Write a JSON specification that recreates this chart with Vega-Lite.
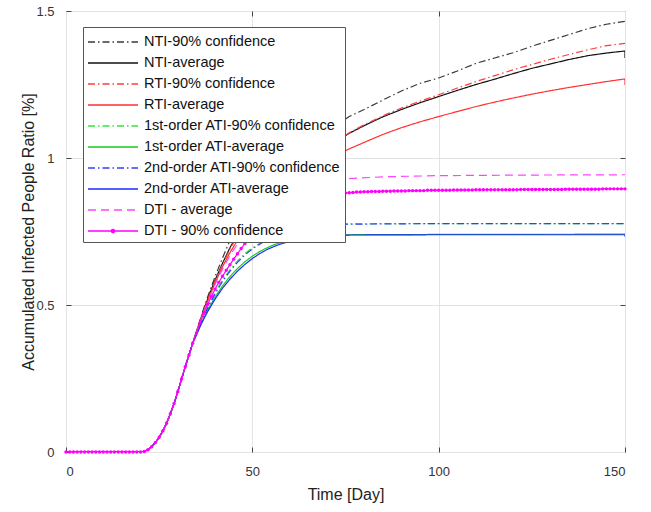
{
  "$schema": "https://vega.github.io/schema/vega-lite/v6.json",
  "width": 559,
  "height": 441,
  "autosize": {"type": "none"},
  "padding": {"left": 66, "top": 11, "right": 26, "bottom": 60},
  "background": "white",
  "config": {
    "view": {"stroke": "#555555", "strokeWidth": 1},
    "font": "Liberation Sans"
  },
  "data": {"values": [
    {"t":0,"v":0,"s":"NTI-90% confidence"},{"t":20,"v":0,"s":"NTI-90% confidence"},{"t":21,"v":0.002,"s":"NTI-90% confidence"},{"t":22,"v":0.008,"s":"NTI-90% confidence"},{"t":23,"v":0.018,"s":"NTI-90% confidence"},{"t":24,"v":0.032,"s":"NTI-90% confidence"},{"t":25,"v":0.05,"s":"NTI-90% confidence"},{"t":26,"v":0.072,"s":"NTI-90% confidence"},{"t":27,"v":0.098,"s":"NTI-90% confidence"},{"t":28,"v":0.13,"s":"NTI-90% confidence"},{"t":29,"v":0.165,"s":"NTI-90% confidence"},{"t":30,"v":0.205,"s":"NTI-90% confidence"},{"t":31,"v":0.248,"s":"NTI-90% confidence"},{"t":32,"v":0.29,"s":"NTI-90% confidence"},{"t":33,"v":0.33,"s":"NTI-90% confidence"},{"t":34,"v":0.37,"s":"NTI-90% confidence"},
    {"t":35,"v":0.41,"s":"NTI-90% confidence"},{"t":36,"v":0.45,"s":"NTI-90% confidence"},{"t":37,"v":0.49,"s":"NTI-90% confidence"},{"t":38,"v":0.527,"s":"NTI-90% confidence"},{"t":40,"v":0.597,"s":"NTI-90% confidence"},{"t":42,"v":0.66,"s":"NTI-90% confidence"},{"t":44,"v":0.72,"s":"NTI-90% confidence"},{"t":46,"v":0.77,"s":"NTI-90% confidence"},{"t":48,"v":0.812,"s":"NTI-90% confidence"},{"t":50,"v":0.848,"s":"NTI-90% confidence"},{"t":55,"v":0.922,"s":"NTI-90% confidence"},{"t":60,"v":0.985,"s":"NTI-90% confidence"},{"t":65,"v":1.04,"s":"NTI-90% confidence"},{"t":70,"v":1.09,"s":"NTI-90% confidence"},{"t":76,"v":1.141,"s":"NTI-90% confidence"},{"t":80,"v":1.165,"s":"NTI-90% confidence"},{"t":85,"v":1.197,"s":"NTI-90% confidence"},{"t":90,"v":1.228,"s":"NTI-90% confidence"},{"t":95,"v":1.254,"s":"NTI-90% confidence"},{"t":100,"v":1.272,"s":"NTI-90% confidence"},{"t":105,"v":1.296,"s":"NTI-90% confidence"},{"t":110,"v":1.322,"s":"NTI-90% confidence"},{"t":115,"v":1.34,"s":"NTI-90% confidence"},{"t":120,"v":1.358,"s":"NTI-90% confidence"},{"t":125,"v":1.38,"s":"NTI-90% confidence"},{"t":130,"v":1.4,"s":"NTI-90% confidence"},{"t":135,"v":1.42,"s":"NTI-90% confidence"},{"t":140,"v":1.44,"s":"NTI-90% confidence"},{"t":145,"v":1.455,"s":"NTI-90% confidence"},{"t":150,"v":1.465,"s":"NTI-90% confidence"},

    {"t":0,"v":0,"s":"NTI-average"},{"t":20,"v":0,"s":"NTI-average"},{"t":21,"v":0.002,"s":"NTI-average"},{"t":22,"v":0.008,"s":"NTI-average"},{"t":23,"v":0.018,"s":"NTI-average"},{"t":24,"v":0.032,"s":"NTI-average"},{"t":25,"v":0.05,"s":"NTI-average"},{"t":26,"v":0.072,"s":"NTI-average"},{"t":27,"v":0.098,"s":"NTI-average"},{"t":28,"v":0.13,"s":"NTI-average"},{"t":29,"v":0.165,"s":"NTI-average"},{"t":30,"v":0.205,"s":"NTI-average"},{"t":31,"v":0.248,"s":"NTI-average"},{"t":32,"v":0.29,"s":"NTI-average"},{"t":33,"v":0.33,"s":"NTI-average"},{"t":34,"v":0.37,"s":"NTI-average"},
    {"t":35,"v":0.408,"s":"NTI-average"},{"t":36,"v":0.447,"s":"NTI-average"},{"t":37,"v":0.485,"s":"NTI-average"},{"t":38,"v":0.52,"s":"NTI-average"},{"t":40,"v":0.585,"s":"NTI-average"},{"t":42,"v":0.642,"s":"NTI-average"},{"t":44,"v":0.695,"s":"NTI-average"},{"t":46,"v":0.74,"s":"NTI-average"},{"t":48,"v":0.78,"s":"NTI-average"},{"t":50,"v":0.813,"s":"NTI-average"},{"t":55,"v":0.883,"s":"NTI-average"},{"t":60,"v":0.94,"s":"NTI-average"},{"t":65,"v":0.99,"s":"NTI-average"},{"t":70,"v":1.035,"s":"NTI-average"},{"t":76,"v":1.084,"s":"NTI-average"},{"t":80,"v":1.11,"s":"NTI-average"},{"t":85,"v":1.14,"s":"NTI-average"},{"t":90,"v":1.165,"s":"NTI-average"},{"t":95,"v":1.188,"s":"NTI-average"},{"t":100,"v":1.209,"s":"NTI-average"},{"t":105,"v":1.23,"s":"NTI-average"},{"t":110,"v":1.25,"s":"NTI-average"},{"t":115,"v":1.268,"s":"NTI-average"},{"t":120,"v":1.287,"s":"NTI-average"},{"t":125,"v":1.305,"s":"NTI-average"},{"t":130,"v":1.32,"s":"NTI-average"},{"t":135,"v":1.335,"s":"NTI-average"},{"t":140,"v":1.348,"s":"NTI-average"},{"t":145,"v":1.357,"s":"NTI-average"},{"t":150,"v":1.364,"s":"NTI-average"},{"t":150,"v":1.34,"s":"NTI-average"},

    {"t":0,"v":0,"s":"RTI-90% confidence"},{"t":20,"v":0,"s":"RTI-90% confidence"},{"t":21,"v":0.002,"s":"RTI-90% confidence"},{"t":22,"v":0.008,"s":"RTI-90% confidence"},{"t":23,"v":0.018,"s":"RTI-90% confidence"},{"t":24,"v":0.032,"s":"RTI-90% confidence"},{"t":25,"v":0.05,"s":"RTI-90% confidence"},{"t":26,"v":0.072,"s":"RTI-90% confidence"},{"t":27,"v":0.098,"s":"RTI-90% confidence"},{"t":28,"v":0.13,"s":"RTI-90% confidence"},{"t":29,"v":0.165,"s":"RTI-90% confidence"},{"t":30,"v":0.205,"s":"RTI-90% confidence"},{"t":31,"v":0.248,"s":"RTI-90% confidence"},{"t":32,"v":0.29,"s":"RTI-90% confidence"},{"t":33,"v":0.33,"s":"RTI-90% confidence"},{"t":34,"v":0.37,"s":"RTI-90% confidence"},
    {"t":35,"v":0.408,"s":"RTI-90% confidence"},{"t":36,"v":0.446,"s":"RTI-90% confidence"},{"t":37,"v":0.483,"s":"RTI-90% confidence"},{"t":38,"v":0.518,"s":"RTI-90% confidence"},{"t":40,"v":0.582,"s":"RTI-90% confidence"},{"t":42,"v":0.638,"s":"RTI-90% confidence"},{"t":44,"v":0.69,"s":"RTI-90% confidence"},{"t":46,"v":0.735,"s":"RTI-90% confidence"},{"t":48,"v":0.775,"s":"RTI-90% confidence"},{"t":50,"v":0.808,"s":"RTI-90% confidence"},{"t":55,"v":0.878,"s":"RTI-90% confidence"},{"t":60,"v":0.937,"s":"RTI-90% confidence"},{"t":65,"v":0.988,"s":"RTI-90% confidence"},{"t":70,"v":1.035,"s":"RTI-90% confidence"},{"t":76,"v":1.086,"s":"RTI-90% confidence"},{"t":80,"v":1.113,"s":"RTI-90% confidence"},{"t":85,"v":1.143,"s":"RTI-90% confidence"},{"t":90,"v":1.17,"s":"RTI-90% confidence"},{"t":95,"v":1.193,"s":"RTI-90% confidence"},{"t":100,"v":1.215,"s":"RTI-90% confidence"},{"t":105,"v":1.238,"s":"RTI-90% confidence"},{"t":110,"v":1.26,"s":"RTI-90% confidence"},{"t":115,"v":1.28,"s":"RTI-90% confidence"},{"t":120,"v":1.3,"s":"RTI-90% confidence"},{"t":125,"v":1.318,"s":"RTI-90% confidence"},{"t":130,"v":1.336,"s":"RTI-90% confidence"},{"t":135,"v":1.352,"s":"RTI-90% confidence"},{"t":140,"v":1.368,"s":"RTI-90% confidence"},{"t":145,"v":1.382,"s":"RTI-90% confidence"},{"t":150,"v":1.39,"s":"RTI-90% confidence"},

    {"t":0,"v":0,"s":"RTI-average"},{"t":20,"v":0,"s":"RTI-average"},{"t":21,"v":0.002,"s":"RTI-average"},{"t":22,"v":0.008,"s":"RTI-average"},{"t":23,"v":0.018,"s":"RTI-average"},{"t":24,"v":0.032,"s":"RTI-average"},{"t":25,"v":0.05,"s":"RTI-average"},{"t":26,"v":0.072,"s":"RTI-average"},{"t":27,"v":0.098,"s":"RTI-average"},{"t":28,"v":0.13,"s":"RTI-average"},{"t":29,"v":0.165,"s":"RTI-average"},{"t":30,"v":0.205,"s":"RTI-average"},{"t":31,"v":0.248,"s":"RTI-average"},{"t":32,"v":0.29,"s":"RTI-average"},{"t":33,"v":0.33,"s":"RTI-average"},{"t":34,"v":0.37,"s":"RTI-average"},
    {"t":35,"v":0.407,"s":"RTI-average"},{"t":36,"v":0.444,"s":"RTI-average"},{"t":37,"v":0.48,"s":"RTI-average"},{"t":38,"v":0.513,"s":"RTI-average"},{"t":40,"v":0.575,"s":"RTI-average"},{"t":42,"v":0.63,"s":"RTI-average"},{"t":44,"v":0.678,"s":"RTI-average"},{"t":46,"v":0.72,"s":"RTI-average"},{"t":48,"v":0.757,"s":"RTI-average"},{"t":50,"v":0.788,"s":"RTI-average"},{"t":55,"v":0.852,"s":"RTI-average"},{"t":60,"v":0.905,"s":"RTI-average"},{"t":65,"v":0.952,"s":"RTI-average"},{"t":70,"v":0.993,"s":"RTI-average"},{"t":76,"v":1.031,"s":"RTI-average"},{"t":80,"v":1.053,"s":"RTI-average"},{"t":85,"v":1.08,"s":"RTI-average"},{"t":90,"v":1.103,"s":"RTI-average"},{"t":95,"v":1.123,"s":"RTI-average"},{"t":100,"v":1.141,"s":"RTI-average"},{"t":105,"v":1.158,"s":"RTI-average"},{"t":110,"v":1.175,"s":"RTI-average"},{"t":115,"v":1.19,"s":"RTI-average"},{"t":120,"v":1.204,"s":"RTI-average"},{"t":125,"v":1.217,"s":"RTI-average"},{"t":130,"v":1.229,"s":"RTI-average"},{"t":135,"v":1.24,"s":"RTI-average"},{"t":140,"v":1.25,"s":"RTI-average"},{"t":145,"v":1.26,"s":"RTI-average"},{"t":150,"v":1.269,"s":"RTI-average"},{"t":150,"v":1.248,"s":"RTI-average"},

    {"t":0,"v":0,"s":"1st-order ATI-90% confidence"},{"t":20,"v":0,"s":"1st-order ATI-90% confidence"},{"t":21,"v":0.002,"s":"1st-order ATI-90% confidence"},{"t":22,"v":0.008,"s":"1st-order ATI-90% confidence"},{"t":23,"v":0.018,"s":"1st-order ATI-90% confidence"},{"t":24,"v":0.032,"s":"1st-order ATI-90% confidence"},{"t":25,"v":0.05,"s":"1st-order ATI-90% confidence"},{"t":26,"v":0.072,"s":"1st-order ATI-90% confidence"},{"t":27,"v":0.098,"s":"1st-order ATI-90% confidence"},{"t":28,"v":0.13,"s":"1st-order ATI-90% confidence"},{"t":29,"v":0.165,"s":"1st-order ATI-90% confidence"},{"t":30,"v":0.205,"s":"1st-order ATI-90% confidence"},{"t":31,"v":0.248,"s":"1st-order ATI-90% confidence"},{"t":32,"v":0.29,"s":"1st-order ATI-90% confidence"},{"t":33,"v":0.33,"s":"1st-order ATI-90% confidence"},{"t":34,"v":0.37,"s":"1st-order ATI-90% confidence"},
    {"t":35,"v":0.403,"s":"1st-order ATI-90% confidence"},{"t":36,"v":0.435,"s":"1st-order ATI-90% confidence"},{"t":37,"v":0.465,"s":"1st-order ATI-90% confidence"},{"t":38,"v":0.493,"s":"1st-order ATI-90% confidence"},{"t":40,"v":0.543,"s":"1st-order ATI-90% confidence"},{"t":42,"v":0.585,"s":"1st-order ATI-90% confidence"},{"t":44,"v":0.62,"s":"1st-order ATI-90% confidence"},{"t":46,"v":0.65,"s":"1st-order ATI-90% confidence"},{"t":48,"v":0.675,"s":"1st-order ATI-90% confidence"},{"t":50,"v":0.695,"s":"1st-order ATI-90% confidence"},{"t":52,"v":0.71,"s":"1st-order ATI-90% confidence"},{"t":54,"v":0.724,"s":"1st-order ATI-90% confidence"},{"t":56,"v":0.736,"s":"1st-order ATI-90% confidence"},{"t":58,"v":0.746,"s":"1st-order ATI-90% confidence"},{"t":60,"v":0.754,"s":"1st-order ATI-90% confidence"},{"t":63,"v":0.763,"s":"1st-order ATI-90% confidence"},{"t":66,"v":0.769,"s":"1st-order ATI-90% confidence"},{"t":70,"v":0.773,"s":"1st-order ATI-90% confidence"},{"t":76,"v":0.776,"s":"1st-order ATI-90% confidence"},{"t":100,"v":0.777,"s":"1st-order ATI-90% confidence"},{"t":150,"v":0.777,"s":"1st-order ATI-90% confidence"},

    {"t":0,"v":0,"s":"1st-order ATI-average"},{"t":20,"v":0,"s":"1st-order ATI-average"},{"t":21,"v":0.002,"s":"1st-order ATI-average"},{"t":22,"v":0.008,"s":"1st-order ATI-average"},{"t":23,"v":0.018,"s":"1st-order ATI-average"},{"t":24,"v":0.032,"s":"1st-order ATI-average"},{"t":25,"v":0.05,"s":"1st-order ATI-average"},{"t":26,"v":0.072,"s":"1st-order ATI-average"},{"t":27,"v":0.098,"s":"1st-order ATI-average"},{"t":28,"v":0.13,"s":"1st-order ATI-average"},{"t":29,"v":0.165,"s":"1st-order ATI-average"},{"t":30,"v":0.205,"s":"1st-order ATI-average"},{"t":31,"v":0.248,"s":"1st-order ATI-average"},{"t":32,"v":0.29,"s":"1st-order ATI-average"},{"t":33,"v":0.33,"s":"1st-order ATI-average"},{"t":34,"v":0.37,"s":"1st-order ATI-average"},
    {"t":35,"v":0.4,"s":"1st-order ATI-average"},{"t":36,"v":0.43,"s":"1st-order ATI-average"},{"t":37,"v":0.457,"s":"1st-order ATI-average"},{"t":38,"v":0.482,"s":"1st-order ATI-average"},{"t":40,"v":0.527,"s":"1st-order ATI-average"},{"t":42,"v":0.565,"s":"1st-order ATI-average"},{"t":44,"v":0.597,"s":"1st-order ATI-average"},{"t":46,"v":0.624,"s":"1st-order ATI-average"},{"t":48,"v":0.647,"s":"1st-order ATI-average"},{"t":50,"v":0.666,"s":"1st-order ATI-average"},{"t":52,"v":0.682,"s":"1st-order ATI-average"},{"t":54,"v":0.695,"s":"1st-order ATI-average"},{"t":56,"v":0.706,"s":"1st-order ATI-average"},{"t":58,"v":0.714,"s":"1st-order ATI-average"},{"t":60,"v":0.72,"s":"1st-order ATI-average"},{"t":63,"v":0.727,"s":"1st-order ATI-average"},{"t":66,"v":0.732,"s":"1st-order ATI-average"},{"t":70,"v":0.736,"s":"1st-order ATI-average"},{"t":76,"v":0.739,"s":"1st-order ATI-average"},{"t":100,"v":0.74,"s":"1st-order ATI-average"},{"t":150,"v":0.741,"s":"1st-order ATI-average"},

    {"t":0,"v":0,"s":"2nd-order ATI-90% confidence"},{"t":20,"v":0,"s":"2nd-order ATI-90% confidence"},{"t":21,"v":0.002,"s":"2nd-order ATI-90% confidence"},{"t":22,"v":0.008,"s":"2nd-order ATI-90% confidence"},{"t":23,"v":0.018,"s":"2nd-order ATI-90% confidence"},{"t":24,"v":0.032,"s":"2nd-order ATI-90% confidence"},{"t":25,"v":0.05,"s":"2nd-order ATI-90% confidence"},{"t":26,"v":0.072,"s":"2nd-order ATI-90% confidence"},{"t":27,"v":0.098,"s":"2nd-order ATI-90% confidence"},{"t":28,"v":0.13,"s":"2nd-order ATI-90% confidence"},{"t":29,"v":0.165,"s":"2nd-order ATI-90% confidence"},{"t":30,"v":0.205,"s":"2nd-order ATI-90% confidence"},{"t":31,"v":0.248,"s":"2nd-order ATI-90% confidence"},{"t":32,"v":0.29,"s":"2nd-order ATI-90% confidence"},{"t":33,"v":0.33,"s":"2nd-order ATI-90% confidence"},{"t":34,"v":0.37,"s":"2nd-order ATI-90% confidence"},
    {"t":35,"v":0.402,"s":"2nd-order ATI-90% confidence"},{"t":36,"v":0.433,"s":"2nd-order ATI-90% confidence"},{"t":37,"v":0.462,"s":"2nd-order ATI-90% confidence"},{"t":38,"v":0.489,"s":"2nd-order ATI-90% confidence"},{"t":40,"v":0.538,"s":"2nd-order ATI-90% confidence"},{"t":42,"v":0.58,"s":"2nd-order ATI-90% confidence"},{"t":44,"v":0.615,"s":"2nd-order ATI-90% confidence"},{"t":46,"v":0.645,"s":"2nd-order ATI-90% confidence"},{"t":48,"v":0.67,"s":"2nd-order ATI-90% confidence"},{"t":50,"v":0.691,"s":"2nd-order ATI-90% confidence"},{"t":52,"v":0.707,"s":"2nd-order ATI-90% confidence"},{"t":54,"v":0.721,"s":"2nd-order ATI-90% confidence"},{"t":56,"v":0.733,"s":"2nd-order ATI-90% confidence"},{"t":58,"v":0.743,"s":"2nd-order ATI-90% confidence"},{"t":60,"v":0.751,"s":"2nd-order ATI-90% confidence"},{"t":63,"v":0.761,"s":"2nd-order ATI-90% confidence"},{"t":66,"v":0.768,"s":"2nd-order ATI-90% confidence"},{"t":70,"v":0.772,"s":"2nd-order ATI-90% confidence"},{"t":76,"v":0.775,"s":"2nd-order ATI-90% confidence"},{"t":100,"v":0.777,"s":"2nd-order ATI-90% confidence"},{"t":150,"v":0.777,"s":"2nd-order ATI-90% confidence"},

    {"t":0,"v":0,"s":"2nd-order ATI-average"},{"t":20,"v":0,"s":"2nd-order ATI-average"},{"t":21,"v":0.002,"s":"2nd-order ATI-average"},{"t":22,"v":0.008,"s":"2nd-order ATI-average"},{"t":23,"v":0.018,"s":"2nd-order ATI-average"},{"t":24,"v":0.032,"s":"2nd-order ATI-average"},{"t":25,"v":0.05,"s":"2nd-order ATI-average"},{"t":26,"v":0.072,"s":"2nd-order ATI-average"},{"t":27,"v":0.098,"s":"2nd-order ATI-average"},{"t":28,"v":0.13,"s":"2nd-order ATI-average"},{"t":29,"v":0.165,"s":"2nd-order ATI-average"},{"t":30,"v":0.205,"s":"2nd-order ATI-average"},{"t":31,"v":0.248,"s":"2nd-order ATI-average"},{"t":32,"v":0.29,"s":"2nd-order ATI-average"},{"t":33,"v":0.33,"s":"2nd-order ATI-average"},{"t":34,"v":0.37,"s":"2nd-order ATI-average"},
    {"t":35,"v":0.398,"s":"2nd-order ATI-average"},{"t":36,"v":0.427,"s":"2nd-order ATI-average"},{"t":37,"v":0.453,"s":"2nd-order ATI-average"},{"t":38,"v":0.477,"s":"2nd-order ATI-average"},{"t":40,"v":0.52,"s":"2nd-order ATI-average"},{"t":42,"v":0.557,"s":"2nd-order ATI-average"},{"t":44,"v":0.588,"s":"2nd-order ATI-average"},{"t":46,"v":0.615,"s":"2nd-order ATI-average"},{"t":48,"v":0.638,"s":"2nd-order ATI-average"},{"t":50,"v":0.658,"s":"2nd-order ATI-average"},{"t":52,"v":0.675,"s":"2nd-order ATI-average"},{"t":54,"v":0.689,"s":"2nd-order ATI-average"},{"t":56,"v":0.7,"s":"2nd-order ATI-average"},{"t":58,"v":0.709,"s":"2nd-order ATI-average"},{"t":60,"v":0.716,"s":"2nd-order ATI-average"},{"t":63,"v":0.724,"s":"2nd-order ATI-average"},{"t":66,"v":0.73,"s":"2nd-order ATI-average"},{"t":70,"v":0.735,"s":"2nd-order ATI-average"},{"t":76,"v":0.738,"s":"2nd-order ATI-average"},{"t":100,"v":0.739,"s":"2nd-order ATI-average"},{"t":150,"v":0.739,"s":"2nd-order ATI-average"},{"t":150,"v":0.732,"s":"2nd-order ATI-average"},

    {"t":0,"v":0,"s":"DTI - average"},{"t":20,"v":0,"s":"DTI - average"},{"t":21,"v":0.002,"s":"DTI - average"},{"t":22,"v":0.008,"s":"DTI - average"},{"t":23,"v":0.018,"s":"DTI - average"},{"t":24,"v":0.032,"s":"DTI - average"},{"t":25,"v":0.05,"s":"DTI - average"},{"t":26,"v":0.072,"s":"DTI - average"},{"t":27,"v":0.098,"s":"DTI - average"},{"t":28,"v":0.13,"s":"DTI - average"},{"t":29,"v":0.165,"s":"DTI - average"},{"t":30,"v":0.205,"s":"DTI - average"},{"t":31,"v":0.248,"s":"DTI - average"},{"t":32,"v":0.29,"s":"DTI - average"},{"t":33,"v":0.33,"s":"DTI - average"},{"t":34,"v":0.37,"s":"DTI - average"},
    {"t":35,"v":0.406,"s":"DTI - average"},{"t":36,"v":0.442,"s":"DTI - average"},{"t":37,"v":0.477,"s":"DTI - average"},{"t":38,"v":0.51,"s":"DTI - average"},{"t":40,"v":0.57,"s":"DTI - average"},{"t":42,"v":0.622,"s":"DTI - average"},{"t":44,"v":0.668,"s":"DTI - average"},{"t":46,"v":0.708,"s":"DTI - average"},{"t":48,"v":0.742,"s":"DTI - average"},{"t":50,"v":0.77,"s":"DTI - average"},{"t":52,"v":0.795,"s":"DTI - average"},{"t":55,"v":0.828,"s":"DTI - average"},{"t":60,"v":0.87,"s":"DTI - average"},{"t":65,"v":0.897,"s":"DTI - average"},{"t":70,"v":0.915,"s":"DTI - average"},{"t":76,"v":0.93,"s":"DTI - average"},{"t":85,"v":0.936,"s":"DTI - average"},{"t":100,"v":0.94,"s":"DTI - average"},{"t":125,"v":0.942,"s":"DTI - average"},{"t":150,"v":0.943,"s":"DTI - average"},

    {"t":0,"v":0,"s":"DTI - 90% confidence"},{"t":1,"v":0,"s":"DTI - 90% confidence"},{"t":2,"v":0,"s":"DTI - 90% confidence"},{"t":3,"v":0,"s":"DTI - 90% confidence"},{"t":4,"v":0,"s":"DTI - 90% confidence"},{"t":5,"v":0,"s":"DTI - 90% confidence"},{"t":6,"v":0,"s":"DTI - 90% confidence"},{"t":7,"v":0,"s":"DTI - 90% confidence"},{"t":8,"v":0,"s":"DTI - 90% confidence"},{"t":9,"v":0,"s":"DTI - 90% confidence"},{"t":10,"v":0,"s":"DTI - 90% confidence"},{"t":11,"v":0,"s":"DTI - 90% confidence"},{"t":12,"v":0,"s":"DTI - 90% confidence"},{"t":13,"v":0,"s":"DTI - 90% confidence"},{"t":14,"v":0,"s":"DTI - 90% confidence"},{"t":15,"v":0,"s":"DTI - 90% confidence"},{"t":16,"v":0,"s":"DTI - 90% confidence"},{"t":17,"v":0,"s":"DTI - 90% confidence"},{"t":18,"v":0,"s":"DTI - 90% confidence"},{"t":19,"v":0,"s":"DTI - 90% confidence"},{"t":20,"v":0,"s":"DTI - 90% confidence"},
    {"t":21,"v":0.002,"s":"DTI - 90% confidence"},{"t":22,"v":0.008,"s":"DTI - 90% confidence"},{"t":23,"v":0.018,"s":"DTI - 90% confidence"},{"t":24,"v":0.032,"s":"DTI - 90% confidence"},{"t":25,"v":0.05,"s":"DTI - 90% confidence"},{"t":26,"v":0.072,"s":"DTI - 90% confidence"},{"t":27,"v":0.098,"s":"DTI - 90% confidence"},{"t":28,"v":0.13,"s":"DTI - 90% confidence"},{"t":29,"v":0.165,"s":"DTI - 90% confidence"},{"t":30,"v":0.205,"s":"DTI - 90% confidence"},
    {"t":31,"v":0.248,"s":"DTI - 90% confidence"},{"t":32,"v":0.29,"s":"DTI - 90% confidence"},{"t":33,"v":0.33,"s":"DTI - 90% confidence"},{"t":34,"v":0.37,"s":"DTI - 90% confidence"},{"t":35,"v":0.405,"s":"DTI - 90% confidence"},{"t":36,"v":0.44,"s":"DTI - 90% confidence"},{"t":37,"v":0.472,"s":"DTI - 90% confidence"},{"t":38,"v":0.502,"s":"DTI - 90% confidence"},{"t":39,"v":0.529,"s":"DTI - 90% confidence"},{"t":40,"v":0.554,"s":"DTI - 90% confidence"},
    {"t":41,"v":0.577,"s":"DTI - 90% confidence"},{"t":42,"v":0.598,"s":"DTI - 90% confidence"},{"t":43,"v":0.618,"s":"DTI - 90% confidence"},{"t":44,"v":0.637,"s":"DTI - 90% confidence"},{"t":45,"v":0.656,"s":"DTI - 90% confidence"},{"t":46,"v":0.674,"s":"DTI - 90% confidence"},{"t":47,"v":0.692,"s":"DTI - 90% confidence"},{"t":48,"v":0.709,"s":"DTI - 90% confidence"},{"t":49,"v":0.725,"s":"DTI - 90% confidence"},{"t":50,"v":0.74,"s":"DTI - 90% confidence"},
    {"t":51,"v":0.754,"s":"DTI - 90% confidence"},{"t":52,"v":0.767,"s":"DTI - 90% confidence"},{"t":53,"v":0.779,"s":"DTI - 90% confidence"},{"t":54,"v":0.79,"s":"DTI - 90% confidence"},{"t":55,"v":0.8,"s":"DTI - 90% confidence"},{"t":56,"v":0.809,"s":"DTI - 90% confidence"},{"t":57,"v":0.817,"s":"DTI - 90% confidence"},{"t":58,"v":0.824,"s":"DTI - 90% confidence"},{"t":59,"v":0.831,"s":"DTI - 90% confidence"},{"t":60,"v":0.837,"s":"DTI - 90% confidence"},
    {"t":61,"v":0.843,"s":"DTI - 90% confidence"},{"t":62,"v":0.848,"s":"DTI - 90% confidence"},{"t":63,"v":0.853,"s":"DTI - 90% confidence"},{"t":64,"v":0.857,"s":"DTI - 90% confidence"},{"t":65,"v":0.861,"s":"DTI - 90% confidence"},{"t":66,"v":0.864,"s":"DTI - 90% confidence"},{"t":67,"v":0.867,"s":"DTI - 90% confidence"},{"t":68,"v":0.87,"s":"DTI - 90% confidence"},{"t":69,"v":0.872,"s":"DTI - 90% confidence"},{"t":70,"v":0.874,"s":"DTI - 90% confidence"},
    {"t":71,"v":0.876,"s":"DTI - 90% confidence"},{"t":72,"v":0.878,"s":"DTI - 90% confidence"},{"t":73,"v":0.879,"s":"DTI - 90% confidence"},{"t":74,"v":0.88,"s":"DTI - 90% confidence"},{"t":75,"v":0.881,"s":"DTI - 90% confidence"},{"t":76,"v":0.882,"s":"DTI - 90% confidence"},{"t":77,"v":0.883,"s":"DTI - 90% confidence"},{"t":78,"v":0.884,"s":"DTI - 90% confidence"},{"t":79,"v":0.884,"s":"DTI - 90% confidence"},{"t":80,"v":0.885,"s":"DTI - 90% confidence"},
    {"t":81,"v":0.885,"s":"DTI - 90% confidence"},{"t":82,"v":0.886,"s":"DTI - 90% confidence"},{"t":83,"v":0.886,"s":"DTI - 90% confidence"},{"t":84,"v":0.886,"s":"DTI - 90% confidence"},{"t":85,"v":0.887,"s":"DTI - 90% confidence"},{"t":86,"v":0.887,"s":"DTI - 90% confidence"},{"t":87,"v":0.887,"s":"DTI - 90% confidence"},{"t":88,"v":0.888,"s":"DTI - 90% confidence"},{"t":89,"v":0.888,"s":"DTI - 90% confidence"},{"t":90,"v":0.888,"s":"DTI - 90% confidence"},
    {"t":91,"v":0.888,"s":"DTI - 90% confidence"},{"t":92,"v":0.889,"s":"DTI - 90% confidence"},{"t":93,"v":0.889,"s":"DTI - 90% confidence"},{"t":94,"v":0.889,"s":"DTI - 90% confidence"},{"t":95,"v":0.889,"s":"DTI - 90% confidence"},{"t":96,"v":0.889,"s":"DTI - 90% confidence"},{"t":97,"v":0.89,"s":"DTI - 90% confidence"},{"t":98,"v":0.89,"s":"DTI - 90% confidence"},{"t":99,"v":0.89,"s":"DTI - 90% confidence"},{"t":100,"v":0.89,"s":"DTI - 90% confidence"},
    {"t":101,"v":0.89,"s":"DTI - 90% confidence"},{"t":102,"v":0.89,"s":"DTI - 90% confidence"},{"t":103,"v":0.89,"s":"DTI - 90% confidence"},{"t":104,"v":0.891,"s":"DTI - 90% confidence"},{"t":105,"v":0.891,"s":"DTI - 90% confidence"},{"t":106,"v":0.891,"s":"DTI - 90% confidence"},{"t":107,"v":0.891,"s":"DTI - 90% confidence"},{"t":108,"v":0.891,"s":"DTI - 90% confidence"},{"t":109,"v":0.891,"s":"DTI - 90% confidence"},{"t":110,"v":0.892,"s":"DTI - 90% confidence"},
    {"t":111,"v":0.892,"s":"DTI - 90% confidence"},{"t":112,"v":0.892,"s":"DTI - 90% confidence"},{"t":113,"v":0.892,"s":"DTI - 90% confidence"},{"t":114,"v":0.892,"s":"DTI - 90% confidence"},{"t":115,"v":0.892,"s":"DTI - 90% confidence"},{"t":116,"v":0.892,"s":"DTI - 90% confidence"},{"t":117,"v":0.892,"s":"DTI - 90% confidence"},{"t":118,"v":0.892,"s":"DTI - 90% confidence"},{"t":119,"v":0.892,"s":"DTI - 90% confidence"},{"t":120,"v":0.892,"s":"DTI - 90% confidence"},
    {"t":121,"v":0.892,"s":"DTI - 90% confidence"},{"t":122,"v":0.893,"s":"DTI - 90% confidence"},{"t":123,"v":0.893,"s":"DTI - 90% confidence"},{"t":124,"v":0.893,"s":"DTI - 90% confidence"},{"t":125,"v":0.893,"s":"DTI - 90% confidence"},{"t":126,"v":0.893,"s":"DTI - 90% confidence"},{"t":127,"v":0.893,"s":"DTI - 90% confidence"},{"t":128,"v":0.893,"s":"DTI - 90% confidence"},{"t":129,"v":0.893,"s":"DTI - 90% confidence"},{"t":130,"v":0.893,"s":"DTI - 90% confidence"},
    {"t":131,"v":0.893,"s":"DTI - 90% confidence"},{"t":132,"v":0.893,"s":"DTI - 90% confidence"},{"t":133,"v":0.893,"s":"DTI - 90% confidence"},{"t":134,"v":0.894,"s":"DTI - 90% confidence"},{"t":135,"v":0.894,"s":"DTI - 90% confidence"},{"t":136,"v":0.894,"s":"DTI - 90% confidence"},{"t":137,"v":0.894,"s":"DTI - 90% confidence"},{"t":138,"v":0.894,"s":"DTI - 90% confidence"},{"t":139,"v":0.894,"s":"DTI - 90% confidence"},{"t":140,"v":0.894,"s":"DTI - 90% confidence"},
    {"t":141,"v":0.894,"s":"DTI - 90% confidence"},{"t":142,"v":0.894,"s":"DTI - 90% confidence"},{"t":143,"v":0.894,"s":"DTI - 90% confidence"},{"t":144,"v":0.895,"s":"DTI - 90% confidence"},{"t":145,"v":0.895,"s":"DTI - 90% confidence"},{"t":146,"v":0.895,"s":"DTI - 90% confidence"},{"t":147,"v":0.895,"s":"DTI - 90% confidence"},{"t":148,"v":0.895,"s":"DTI - 90% confidence"},{"t":149,"v":0.895,"s":"DTI - 90% confidence"},{"t":150,"v":0.895,"s":"DTI - 90% confidence"}
  ]},
  "encoding": {
    "x": {
      "field": "t", "type": "quantitative",
      "scale": {"domain": [0, 150], "nice": false},
      "axis": {
        "values": [0, 50, 100, 150], "title": "Time [Day]",
        "grid": true, "gridColor": "#e3e3e3", "domain": false,
        "tickSize": -5, "tickColor": "#444444",
        "labelFont": "Liberation Sans", "labelFontSize": 13, "labelColor": "#333333", "labelPadding": 18,
        "titleFont": "Liberation Sans", "titleFontSize": 16, "titleFontWeight": "normal", "titleColor": "#222222", "titlePadding": 8
      }
    },
    "y": {
      "field": "v", "type": "quantitative",
      "scale": {"domain": [0, 1.5], "nice": false},
      "axis": {
        "values": [0, 0.5, 1, 1.5], "format": "~g", "title": "Accumulated Infected People Ratio [%]",
        "grid": true, "gridColor": "#e3e3e3", "domain": false,
        "tickSize": -5, "tickColor": "#444444",
        "labelFont": "Liberation Sans", "labelFontSize": 13, "labelColor": "#333333", "labelPadding": 17,
        "titleFont": "Liberation Sans", "titleFontSize": 16, "titleFontWeight": "normal", "titleColor": "#222222", "titleX": -30
      }
    }
  },
  "layer": [
    {
      "mark": {"type": "line", "strokeWidth": 1.2, "clip": true},
      "encoding": {
        "color": {
          "field": "s", "type": "nominal",
          "scale": {
            "domain": ["NTI-90% confidence", "NTI-average", "RTI-90% confidence", "RTI-average", "1st-order ATI-90% confidence", "1st-order ATI-average", "2nd-order ATI-90% confidence", "2nd-order ATI-average", "DTI - average", "DTI - 90% confidence"],
            "range": ["#3a3a3a", "#111111", "#ff3c3c", "#ff3030", "#33e833", "#1cc81c", "#3040ff", "#1a2cff", "#ff44ff", "#ff00ff"]
          },
          "legend": {
            "orient": "none", "legendX": 17, "legendY": 16, "direction": "vertical",
            "title": null, "fillColor": "white", "strokeColor": "#555555", "padding": 4,
            "symbolType": "M-2.5,0H2.5", "symbolSize": 400, "symbolOffset": 15, "symbolStrokeWidth": 1.3,
            "labelOffset": 20, "labelFont": "Liberation Sans", "labelFontSize": 14.5, "labelColor": "#111111", "labelLimit": 400,
            "rowPadding": 3,
            "encode": {"symbols": {"update": {
              "shape": {"signal": "datum.value === 'DTI - 90% confidence' ? 'M-2.5,0H2.5M-0.17,0A0.17,0.17,0,1,0,0.17,0A0.17,0.17,0,1,0,-0.17,0' : 'M-2.5,0H2.5'"},
              "fill": {"signal": "datum.value === 'DTI - 90% confidence' ? '#ff00ff' : 'transparent'"}
            }}}
          }
        },
        "strokeDash": {
          "field": "s", "type": "nominal",
          "scale": {
            "domain": ["NTI-90% confidence", "NTI-average", "RTI-90% confidence", "RTI-average", "1st-order ATI-90% confidence", "1st-order ATI-average", "2nd-order ATI-90% confidence", "2nd-order ATI-average", "DTI - average", "DTI - 90% confidence"],
            "range": [[7, 3, 1.5, 3], [1, 0], [7, 3, 1.5, 3], [1, 0], [7, 3, 1.5, 3], [1, 0], [7, 3, 1.5, 3], [1, 0], [8, 5], [1, 0]]
          },
          "legend": {
            "orient": "none", "legendX": 17, "legendY": 16, "direction": "vertical",
            "title": null, "fillColor": "white", "strokeColor": "#555555", "padding": 4,
            "symbolType": "M-2.5,0H2.5", "symbolSize": 400, "symbolOffset": 15, "symbolStrokeWidth": 1.3,
            "labelOffset": 20, "labelFont": "Liberation Sans", "labelFontSize": 14.5, "labelColor": "#111111", "labelLimit": 400,
            "rowPadding": 3,
            "encode": {"symbols": {"update": {
              "shape": {"signal": "datum.value === 'DTI - 90% confidence' ? 'M-2.5,0H2.5M-0.17,0A0.17,0.17,0,1,0,0.17,0A0.17,0.17,0,1,0,-0.17,0' : 'M-2.5,0H2.5'"},
              "fill": {"signal": "datum.value === 'DTI - 90% confidence' ? '#ff00ff' : 'transparent'"}
            }}}
          }
        }
      }
    },
    {
      "transform": [{"filter": "datum.s === 'DTI - 90% confidence'"}],
      "mark": {"type": "point", "filled": true, "size": 12, "color": "#ff00ff", "opacity": 1},
      "encoding": {
        "x": {"field": "t", "type": "quantitative", "axis": {"orient": "top", "values": [50, 100], "labels": false, "title": null, "grid": false, "domain": false, "tickSize": -5, "tickColor": "#444444"}},
        "y": {"field": "v", "type": "quantitative", "axis": {"orient": "right", "values": [0.5, 1], "labels": false, "title": null, "grid": false, "domain": false, "tickSize": -5, "tickColor": "#444444"}}
      }
    }
  ],
  "resolve": {"axis": {"x": "independent", "y": "independent"}}
}
